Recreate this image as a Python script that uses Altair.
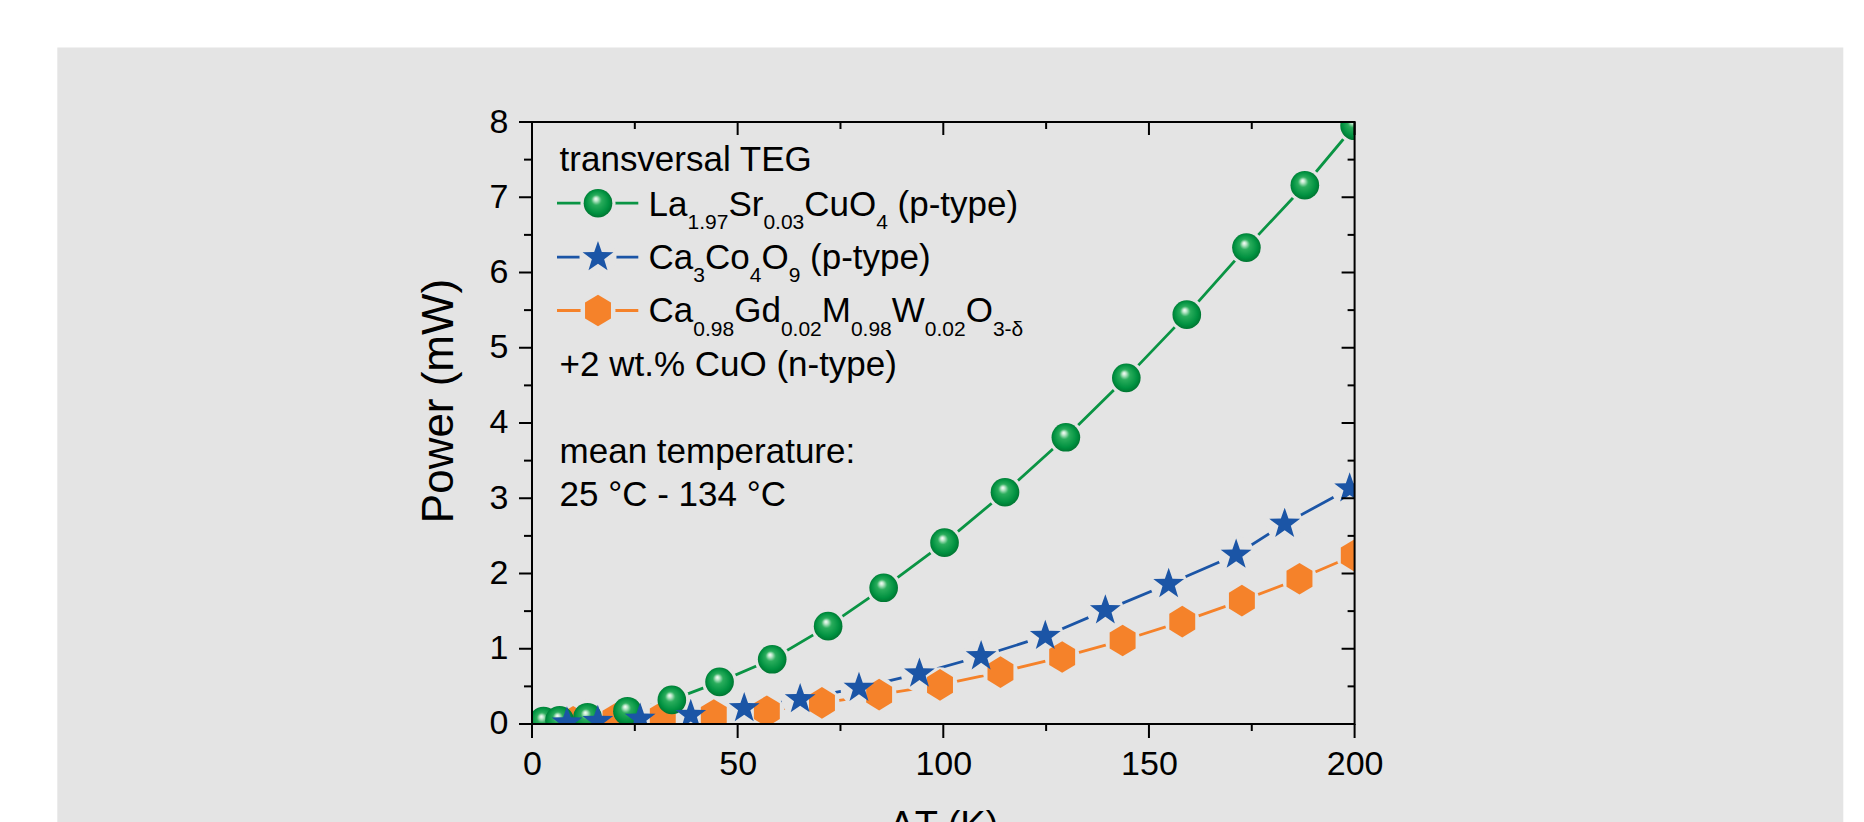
import altair as alt
import pandas as pd

# ---------------- data ----------------
green_x = [2.8, 6.7, 13.5, 23.2, 34.0, 45.6, 58.4, 72.0, 85.5, 100.3, 115.0, 129.8, 144.5, 159.2, 173.7, 187.9, 200.0]
green_y = [0.04, 0.05, 0.09, 0.17, 0.32, 0.56, 0.86, 1.30, 1.81, 2.41, 3.08, 3.81, 4.60, 5.44, 6.33, 7.16, 7.95]

blue_x = [8.5, 16.0, 26.3, 38.6, 51.6, 65.2, 79.5, 94.2, 109.2, 124.8, 139.4, 154.8, 171.2, 183.0, 198.8]
blue_y = [0.02, 0.04, 0.07, 0.12, 0.21, 0.33, 0.48, 0.67, 0.90, 1.17, 1.51, 1.86, 2.25, 2.66, 3.13]

orange_x = [3.0, 10.0, 20.3, 31.8, 44.2, 57.1, 70.5, 84.4, 99.2, 113.9, 128.9, 143.6, 158.1, 172.6, 186.6, 199.8]
orange_y = [0.01, 0.03, 0.07, 0.10, 0.12, 0.17, 0.28, 0.39, 0.52, 0.69, 0.89, 1.11, 1.36, 1.64, 1.93, 2.24]

x_major = [0, 50, 100, 150, 200]
x_minor = [25, 75, 125, 175]
y_major = [0, 1, 2, 3, 4, 5, 6, 7, 8]
y_minor = [0.5, 1.5, 2.5, 3.5, 4.5, 5.5, 6.5, 7.5]

x_title = "ΔT (K)"
y_title = "Power (mW)"

# legend / annotation rows: list of (text, is_subscript)
row_title = [("transversal TEG", False)]
row_green = [("La", False), ("1.97", True), ("Sr", False), ("0.03", True), ("CuO", False), ("4", True), (" (p-type)", False)]
row_blue = [("Ca", False), ("3", True), ("Co", False), ("4", True), ("O", False), ("9", True), (" (p-type)", False)]
row_orange = [("Ca", False), ("0.98", True), ("Gd", False), ("0.02", True), ("M", False), ("0.98", True),
              ("W", False), ("0.02", True), ("O", False), ("3-δ", True)]
row_cuo = [("+2 wt.% CuO (n-type)", False)]
row_mean1 = [("mean temperature:", False)]
row_mean2 = [("25 °C - 134 °C", False)]

# ---------------- styles ----------------
W, H = 822.6, 602
BG = "#e4e4e4"
FONT = "Liberation Sans"
GREEN = "#0a9444"
BLUE = "#1b55a6"
ORANGE = "#f5822a"
FS_MAIN = 35
FS_SUB = 21
LW = 2.8

SZ_CIRCLE, SZ_STAR, SZ_HEX = 820, 1050, 1000
HALO_CIRCLE, HALO_STAR, HALO_HEX = 1225, 1370, 1225

STAR = ("M0,-1L0.235,-0.324L0.951,-0.309L0.380,0.124L0.588,0.809L0,0.4"
        "L-0.588,0.809L-0.380,0.124L-0.951,-0.309L-0.235,-0.324Z")
HEX = "M0,-1L0.82,-0.5L0.82,0.5L0,1L-0.82,0.5L-0.82,-0.5Z"
SPHERE = {
    "gradient": "radial",
    "x1": 0.42, "y1": 0.34, "r1": 0.0,
    "x2": 0.5, "y2": 0.5, "r2": 0.56,
    "stops": [
        {"offset": 0.0, "color": "#ffffff"},
        {"offset": 0.12, "color": "#bfe8cc"},
        {"offset": 0.32, "color": "#2aad5c"},
        {"offset": 0.72, "color": "#009140"},
        {"offset": 1.0, "color": "#006a2b"},
    ],
}

xs = alt.Scale(domain=[0, 200], nice=False, zero=False)
ys = alt.Scale(domain=[0, 8], nice=False, zero=False)

x_axis = alt.Axis(values=x_major, title=x_title, domain=False, ticks=False, grid=False, zindex=2,
                  labelFont=FONT, labelFontSize=34, labelColor="black", labelPadding=24,
                  titleFont=FONT, titleFontSize=38, titleFontWeight="normal", titleColor="black",
                  titleY=84, labelFlush=False)
y_axis = alt.Axis(values=y_major, title=y_title, domain=False, ticks=False, grid=False, zindex=2,
                  labelFont=FONT, labelFontSize=34, labelColor="black", labelPadding=24,
                  titleFont=FONT, titleFontSize=44, titleFontWeight="normal", titleColor="black",
                  titleX=-70, titleY=278.5, labelFlush=False)

def X(field):
    return alt.X(field, scale=xs, axis=x_axis)

def Y(field):
    return alt.Y(field, scale=ys, axis=y_axis)

one = pd.DataFrame({"a": [0]})

def sdf(x, y):
    return pd.DataFrame({"dT": x, "P": y})

gdf, bdf, odf = sdf(green_x, green_y), sdf(blue_x, blue_y), sdf(orange_x, orange_y)

# background panel
bg = alt.Chart(one).mark_rect(color=BG).encode(
    x=alt.value(-474.7), x2=alt.value(1311.3), y=alt.value(-74.5), y2=alt.value(720)
)

def line(d, color):
    return alt.Chart(d).mark_line(color=color, strokeWidth=LW, clip=True).encode(
        x=X("dT:Q"), y=Y("P:Q"))

def pts(d, **mk):
    return alt.Chart(d).mark_point(filled=True, opacity=1, clip=True, strokeWidth=0, **mk).encode(
        x=X("dT:Q"), y=Y("P:Q"))

lines = [line(odf, ORANGE), line(gdf, GREEN), line(bdf, BLUE)]
halos = [pts(odf, shape="circle", fill=BG, size=HALO_HEX),
         pts(gdf, shape="circle", fill=BG, size=HALO_CIRCLE),
         pts(bdf, shape="circle", fill=BG, size=HALO_STAR)]
markers = [pts(odf, shape=HEX, fill=ORANGE, size=SZ_HEX),
           pts(gdf, shape="circle", fill=SPHERE, size=SZ_CIRCLE),
           pts(bdf, shape=STAR, fill=BLUE, size=SZ_STAR)]

# legend symbols
def leg_symbol(y, color, marker_kw, halo_size):
    ln = alt.Chart(one).mark_rule(color=color, strokeWidth=LW).encode(
        x=alt.value(25), x2=alt.value(106.3), y=alt.value(y))
    halo = alt.Chart(one).mark_point(filled=True, opacity=1, strokeWidth=0, shape="circle",
                                     fill=BG, size=halo_size).encode(x=alt.value(66), y=alt.value(y))
    mk = alt.Chart(one).mark_point(filled=True, opacity=1, strokeWidth=0, **marker_kw).encode(
        x=alt.value(66), y=alt.value(y))
    return [ln, halo, mk]

legend = []
legend += leg_symbol(81.2, GREEN, dict(shape="circle", fill=SPHERE, size=SZ_CIRCLE), HALO_CIRCLE)
legend += leg_symbol(135.2, BLUE, dict(shape=STAR, fill=BLUE, size=SZ_STAR), HALO_STAR)
legend += leg_symbol(188.5, ORANGE, dict(shape=HEX, fill=ORANGE, size=SZ_HEX), HALO_HEX)

# Arial / Liberation Sans advance widths (1/1000 em)
ADV = {' ': 278, '.': 278, '%': 889, '+': 584, '-': 333, '(': 333, ')': 333, ':': 278, '°': 400,
       'L': 556, 'a': 556, 'S': 667, 'r': 333, 'C': 722, 'u': 556, 'O': 778, 'p': 556, 't': 278,
       'y': 500, 'e': 556, 'o': 556, 'G': 778, 'd': 556, 'M': 833, 'W': 944, 'δ': 556, 'w': 722,
       'n': 556, 'T': 611, 'E': 667, 's': 500, 'v': 500, 'l': 222, 'm': 833, 'i': 222}
for c in "0123456789":
    ADV[c] = 556

def text_row(segs, x0, base):
    out = []
    x = x0
    for s, sub in segs:
        fs = FS_SUB if sub else FS_MAIN
        yy = base + (13.5 if sub else 0)
        lead = len(s) - len(s.lstrip(" "))
        x += lead * ADV[' '] / 1000 * fs
        s = s.lstrip(" ")
        out.append(alt.Chart(one).mark_text(align="left", baseline="alphabetic", font=FONT,
                                            fontSize=fs, color="black").encode(
            x=alt.value(x), y=alt.value(yy), text=alt.value(s)))
        x += sum(ADV.get(c, 556) for c in s) / 1000 * fs
    return out

texts = []
texts += text_row(row_title, 27.6, 49.2)
texts += text_row(row_green, 116.6, 93.5)
texts += text_row(row_blue, 116.6, 146.5)
texts += text_row(row_orange, 116.6, 200.2)
texts += text_row(row_cuo, 27.6, 253.5)
texts += text_row(row_mean1, 27.6, 341.2)
texts += text_row(row_mean2, 27.6, 384.5)

# frame and ticks
frame = alt.Chart(one).mark_rect(filled=False, stroke="black", strokeWidth=2).encode(
    x=alt.value(0), x2=alt.value(W), y=alt.value(0), y2=alt.value(H))

def xticks(vals, y1, y2):
    return alt.Chart(pd.DataFrame({"v": vals})).mark_rule(color="black", strokeWidth=2).encode(
        x=X("v:Q"), y=alt.value(y1), y2=alt.value(y2))

def yticks(vals, x1, x2):
    return alt.Chart(pd.DataFrame({"v": vals})).mark_rule(color="black", strokeWidth=2).encode(
        y=Y("v:Q"), x=alt.value(x1), x2=alt.value(x2))

ticks = [
    xticks(x_major, H, H + 14), xticks(x_minor, H, H + 7),
    xticks(x_major, 0, 13), xticks(x_minor, 0, 7),
    yticks(y_major, -13, 0), yticks(y_minor, -8, 0),
    yticks(y_major, W - 13, W), yticks(y_minor, W - 7, W),
]

chart = alt.layer(bg, *lines, *halos, *markers, *legend, *texts, frame, *ticks).properties(
    width=W, height=H,
    padding={"left": 49, "top": 39, "right": 0, "bottom": 0},
    background="white",
).configure_view(stroke=None)

chart.save("out.html", embed_options={"renderer": "svg", "actions": False})
